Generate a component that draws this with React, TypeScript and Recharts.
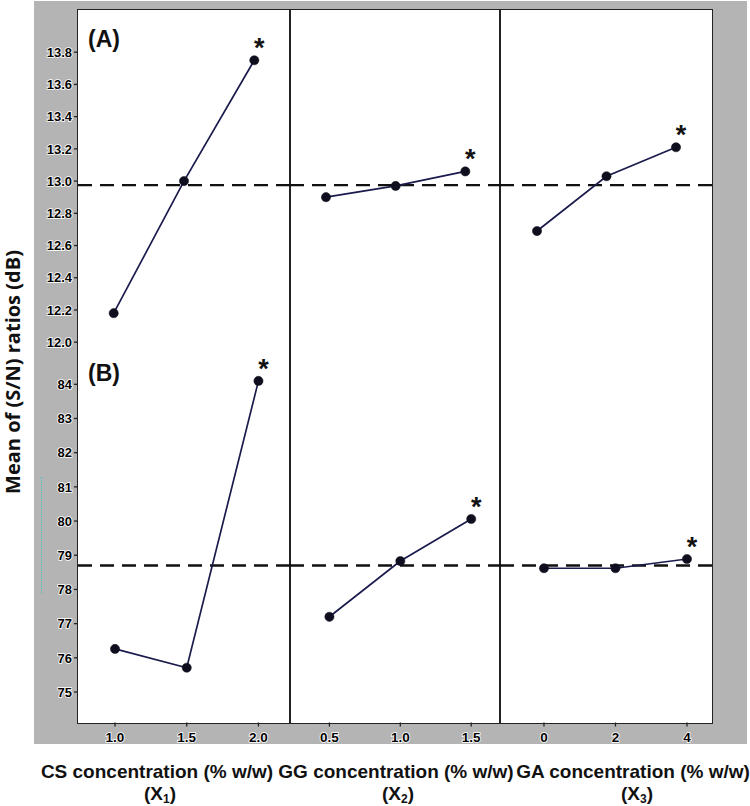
import React from 'react';
import { LineChart, Line, XAxis, YAxis, ReferenceLine } from 'recharts';

// ---------------- data ----------------
const csLevels = [1.0, 1.5, 2.0];
const ggLevels = [0.5, 1.0, 1.5];
const gaLevels = [0, 2, 4];

// (A) mean S/N ratios
const snA_CS = [12.18, 13.0, 13.75];
const snA_GG = [12.9, 12.97, 13.06];
const snA_GA = [12.69, 13.03, 13.21];

// (B) mean S/N ratios
const snB_CS = [76.26, 75.71, 84.1];
const snB_GG = [77.2, 78.83, 80.06];
const snB_GA = [78.62, 78.62, 78.89];

// index of the optimum (asterisked) level of each factor
const optimumA = [2, 2, 2];
const optimumB = [2, 2, 2];

const grandMeanA = 12.975;
const grandMeanB = 78.7;

const yTicksA = [12.0, 12.2, 12.4, 12.6, 12.8, 13.0, 13.2, 13.4, 13.6, 13.8];
const yTicksB = [75, 76, 77, 78, 79, 80, 81, 82, 83, 84];

const factorTitles = ['CS concentration (% w/w)', 'GG concentration (% w/w)', 'GA concentration (% w/w)'];
const factorSubscripts = ['1', '2', '3'];
const panelLabels = ['(A)', '(B)'];
const yTitle = 'Mean of (S/N) ratios (dB)';

// ---------------- layout ----------------
const COL_EDGES = [78, 290, 500, 712];
const ROW_EDGES = [9.5, 352, 722.5];
const Y_DOMAINS: [number, number][] = [
  [11.936, 14.062],
  [74.108, 84.945],
];
const X_DOMAINS: [number, number][][] = [
  [
    [0.746, 2.254],
    [0.2416, 1.749],
    [-1.065, 5.036],
  ],
  [
    [0.742, 2.22],
    [0.222, 1.703],
    [-1.23, 4.7],
  ],
];

const LINE_COLOR = '#1b1b4d';
const INK = '#111';
const SANS = "'Liberation Sans', Arial, sans-serif";

const buildRows = (levels: number[], values: number[], opt: number) =>
  levels.map((x, i) => ({ x, sn: values[i], star: i === opt ? '*' : '' }));

const levelSets = [csLevels, ggLevels, gaLevels];
const valueSets = [
  [snA_CS, snA_GG, snA_GA],
  [snB_CS, snB_GG, snB_GA],
];
const optimumSets = [optimumA, optimumB];
const yTickSets = [yTicksA, yTicksB];
const grandMeans = [grandMeanA, grandMeanB];

const StarDot = (props: any) => {
  const { cx, cy, payload, index } = props;
  if (cx == null || cy == null) return <g key={`d-${index}`} />;
  return (
    <g key={`d-${index}`}>
      <circle cx={cx} cy={cy} r={4.6} fill="#0e0e1e" stroke="#0e0e1e" strokeWidth={0.5} />
      {payload && payload.star ? (
        <text
          x={cx + 5}
          y={cy - 3}
          textAnchor="middle"
          fontFamily={SANS}
          fontWeight={700}
          fontSize={27}
          fill={INK}
        >
          {payload.star}
        </text>
      ) : null}
    </g>
  );
};

const fmtX = (col: number) => (v: number) => (col === 2 ? String(v) : v.toFixed(1));
const fmtY = (row: number) => (v: number) => (row === 0 ? v.toFixed(1) : String(v));

const haloText = {
  fontFamily: SANS,
  fontWeight: 700,
  fill: '#000',
  stroke: '#ffffff',
  strokeWidth: 1.6,
  paintOrder: 'stroke' as const,
};

function Panel({ col, row }: { col: number; row: number }) {
  const plotL = COL_EDGES[col];
  const plotR = COL_EDGES[col + 1];
  const plotT = ROW_EDGES[row];
  const plotB = ROW_EDGES[row + 1];
  const padL = 50;
  const padR = 30;
  const padT = 30;
  const padB = 34;
  const showY = col === 0;
  const showX = row === 1;
  const yW = 44;
  const xH = 28;
  const width = plotR - plotL + padL + padR;
  const height = plotB - plotT + padT + padB;
  const data = buildRows(levelSets[col], valueSets[row][col], optimumSets[row][col]);
  const fx = fmtX(col);
  const fy = fmtY(row);
  return (
    <div style={{ position: 'absolute', left: plotL - padL, top: plotT - padT, width, height }}>
      <LineChart
        width={width}
        height={height}
        data={data}
        margin={{ left: padL - (showY ? yW : 0), right: padR, top: padT, bottom: padB - (showX ? xH : 0) }}
      >
        <XAxis
          type="number"
          dataKey="x"
          domain={X_DOMAINS[row][col]}
          allowDataOverflow
          ticks={levelSets[col]}
          hide={!showX}
          height={xH}
          axisLine={false}
          tickLine={{ stroke: '#222', strokeWidth: 1.3 }}
          tickSize={4}
          tickMargin={5}
          interval={0}
          tick={(p: any) => (
            <text key={`xt-${p.index}`} x={p.x} y={p.y} dy={10} textAnchor="middle" fontSize={13.5} {...haloText}>
              {fx(p.payload.value)}
            </text>
          )}
        />
        <YAxis
          type="number"
          domain={Y_DOMAINS[row]}
          allowDataOverflow
          ticks={yTickSets[row]}
          hide={!showY}
          width={yW}
          axisLine={false}
          tickLine={{ stroke: '#222', strokeWidth: 1.3 }}
          tickSize={4}
          tickMargin={2}
          interval={0}
          tick={(p: any) => (
            <text key={`yt-${p.index}`} x={p.x} y={p.y} dy={4.7} textAnchor="end" fontSize={13} {...haloText}>
              {fy(p.payload.value)}
            </text>
          )}
        />
        <ReferenceLine y={grandMeans[row]} stroke={INK} strokeWidth={2.4} strokeDasharray="14 8" />
        <Line
          type="linear"
          dataKey="sn"
          stroke={LINE_COLOR}
          strokeWidth={1.7}
          dot={StarDot}
          activeDot={false}
          isAnimationActive={false}
        />
      </LineChart>
    </div>
  );
}

export default function App() {
  const cols = [0, 1, 2];
  const rows = [0, 1];
  const titleCenters = [157, 396, 633];
  const subCenters = [160, 398, 637];
  return (
    <div
      style={{
        position: 'absolute',
        left: 0,
        top: 0,
        width: 750,
        height: 806,
        background: '#ffffff',
        overflow: 'hidden',
        fontFamily: SANS,
      }}
    >
      {/* gray frame */}
      <div style={{ position: 'absolute', left: 34, top: 1, width: 713, height: 742.5, background: '#b4b4b4' }} />
      {/* white plotting area */}
      <div
        style={{
          position: 'absolute',
          left: 77,
          top: 8.5,
          width: 636,
          height: 715,
          background: '#ffffff',
          border: '1.5px solid #222',
          boxSizing: 'border-box',
        }}
      />
      {/* panel dividers */}
      {[COL_EDGES[1], COL_EDGES[2]].map((x) => (
        <div
          key={`div-${x}`}
          style={{ position: 'absolute', left: x - 0.7, top: 9.5, width: 1.4, height: 713, background: '#222' }}
        />
      ))}
      {/* dotted artefact on the left */}
      <div
        style={{
          position: 'absolute',
          left: 41,
          top: 477,
          width: 0,
          height: 116,
          borderLeft: '1.5px dotted #4fc0c0',
        }}
      />
      {rows.map((r) => cols.map((c) => <Panel key={`p-${r}-${c}`} col={c} row={r} />))}
      {/* panel labels */}
      {panelLabels.map((lbl, i) => (
        <div
          key={`pl-${i}`}
          style={{
            position: 'absolute',
            left: 88,
            top: (i === 0 ? 39 : 372.7) - 13,
            fontSize: 23,
            lineHeight: '26px',
            fontWeight: 700,
            color: INK,
            whiteSpace: 'nowrap',
          }}
        >
          {lbl}
        </div>
      ))}
      {/* y title */}
      <div
        style={{
          position: 'absolute',
          left: 13,
          top: 371.5,
          transform: 'translate(-50%, -50%) rotate(-90deg)',
          fontFamily: "'Open Sans', sans-serif",
          fontWeight: 700,
          fontSize: 20,
          lineHeight: '20px',
          color: INK,
          whiteSpace: 'nowrap',
        }}
      >
        {yTitle}
      </div>
      {/* x titles */}
      {cols.map((c) => (
        <React.Fragment key={`xt-${c}`}>
          <div
            style={{
              position: 'absolute',
              left: titleCenters[c],
              top: 771.7 - 10,
              transform: 'translateX(-50%)',
              fontSize: 19,
              lineHeight: '20px',
              fontWeight: 700,
              color: INK,
              whiteSpace: 'nowrap',
            }}
          >
            {factorTitles[c]}
          </div>
          <div
            style={{
              position: 'absolute',
              left: subCenters[c],
              top: 794 - 10,
              transform: 'translateX(-50%)',
              fontSize: 19,
              lineHeight: '20px',
              fontWeight: 700,
              color: INK,
              whiteSpace: 'nowrap',
            }}
          >
            (X
            <span style={{ fontSize: 12, position: 'relative', top: 3 }}>{factorSubscripts[c]}</span>)
          </div>
        </React.Fragment>
      ))}
    </div>
  );
}
